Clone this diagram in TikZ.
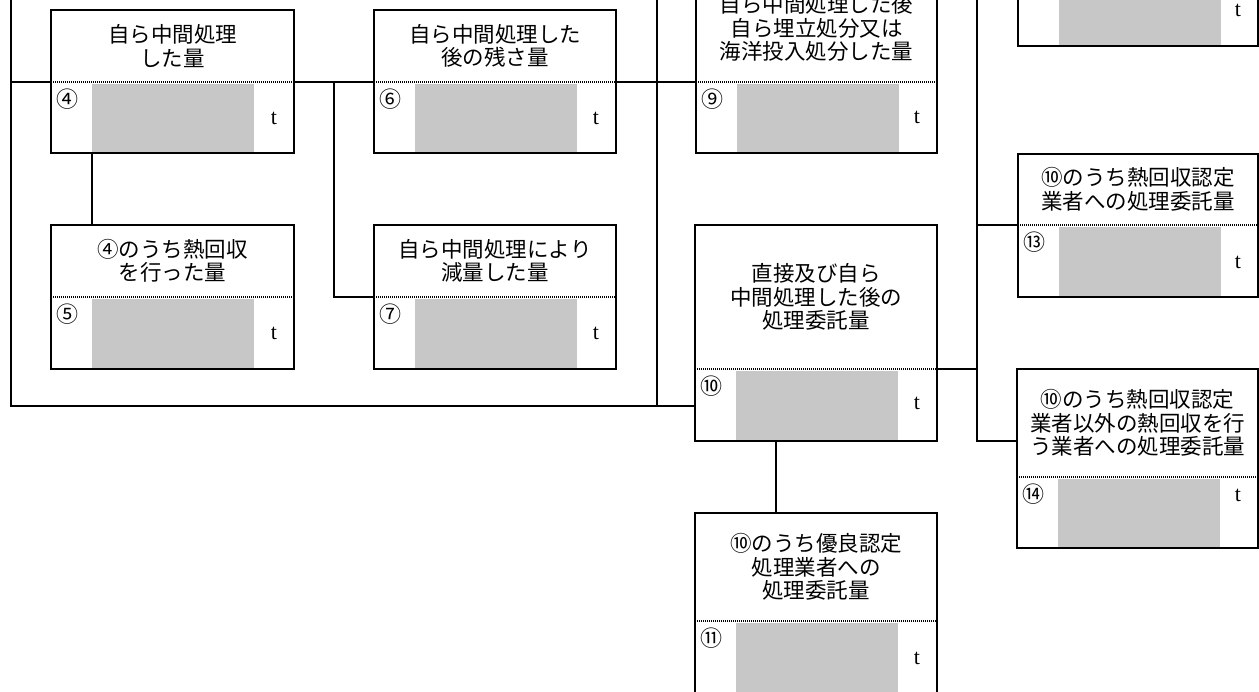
\documentclass[tikz,border=0pt]{standalone}
\usepackage{fontspec}
\setmainfont{Noto Sans CJK JP}
\newfontfamily\tfont{Liberation Serif}
\tikzset{
  boxst/.style={draw, line width=2pt, inner sep=0pt, outer sep=0pt},
  divline/.style={line width=2.2pt, dash pattern=on 1pt off 1pt},
  conn/.style={line width=1.8pt},
  hatch/.style={fill=black!22},
  ttl/.style={align=center, font=\fontsize{21.5}{23.5}\selectfont, inner sep=0pt},
  numst/.style={font=\fontsize{22}{22}\selectfont, inner sep=0pt},
  unitst/.style={font=\tfont\fontsize{22}{22}\selectfont, inner sep=0pt},
}
\newcommand\wbox[9]{%
  \fill[hatch] (#2+41,#5+2) rectangle (#2+203,#6-1);
  \node[boxst, minimum width={(#3-#2)*1pt}, minimum height={(#6-#4)*1pt}] (#1) at ({(#2+#3)/2},{(#4+#6)/2}) {};
  \coordinate (#1dl) at (#2,#5);
  \coordinate (#1dr) at (#3,#5);
  \draw[divline] (#1dl) -- (#1dr);
  \node[ttl] (#1t) at ({(#2+#3)/2},{(#4+#5)/2}) {#8};
  \node[numst] (#1n) at (#2+16,#5+17) {#7};
  \node[unitst] (#1u) at (#3-20,#5+#9) {t};
}
\begin{document}
\begin{tikzpicture}[x=1pt,y=-1pt]
  \useasboundingbox (0,0) rectangle (1259,692);
  \clip (0,0) rectangle (1259,692);
  \fill[white] (0,0) rectangle (1259,692);
  \wbox{b4}{51}{294}{10}{82}{153}{④}{自ら中間処理\\した量}{36}
  \wbox{b6}{374}{616}{10}{82}{153}{⑥}{自ら中間処理した\\後の残さ量}{36}
  \wbox{b9}{696}{937}{-26}{82}{153}{⑨}{自ら中間処理した後\\自ら埋立処分又は\\海洋投入処分した量}{35}
  \wbox{b5}{51}{294}{225}{297}{369}{⑤}{④のうち熱回収\\を行った量}{36}
  \wbox{b7}{374}{616}{225}{297}{369}{⑦}{自ら中間処理により\\減量した量}{36}
  \wbox{b10}{695}{937}{225}{369}{441}{⑩}{直接及び自ら\\中間処理した後の\\処理委託量}{34}
  \wbox{b11}{695}{937}{513}{621}{694}{⑪}{⑩のうち優良認定\\処理業者への\\処理委託量}{37}
  \wbox{b12}{1018}{1258}{-98}{-26}{46}{}{}{36}
  \wbox{b13}{1018}{1258}{154}{225}{297}{⑬}{⑩のうち熱回収認定\\業者への処理委託量}{37}
  \wbox{b14}{1017}{1258}{369}{477}{548}{⑭}{⑩のうち熱回収認定\\業者以外の熱回収を行\\う業者への処理委託量}{18}
  % frame
  \coordinate (ftl) at (11,-5);
  \coordinate (fbl) at (11,406);
  \coordinate (ftr) at (657,-5);
  \coordinate (fbr) at (657,406);
  \draw[conn] (ftl) -- (fbl) -- (fbl -| b10.west);
  \draw[conn] (ftr) -- (fbr);
  \draw[conn] (ftl |- b4dl) -- (b4dl);
  \draw[conn] (b4dr) -- (b6dl);
  \draw[conn] (b6dr) -- (b9dl);
  \draw[conn] ([xshift=41pt]b4.south west) -- ([xshift=41pt]b5.north west);
  \coordinate (j7) at (334,82);
  \draw[conn] (j7) |- (b7dl);
  % right column
  \coordinate (vtop) at (977,-5);
  \coordinate (vbot) at (977,441);
  \draw[conn] (vtop) -- (vbot) -- (vbot -| b14.west);
  \draw[conn] (b10dr) -- (b10dr -| vtop);
  \draw[conn] (b13dl -| vtop) -- (b13dl);
  \draw[conn] (b12dl -| vtop) -- (b12dl);
  \draw[conn] ([xshift=81pt]b10.south west) -- ([xshift=81pt]b11.north west);
\end{tikzpicture}
\end{document}
